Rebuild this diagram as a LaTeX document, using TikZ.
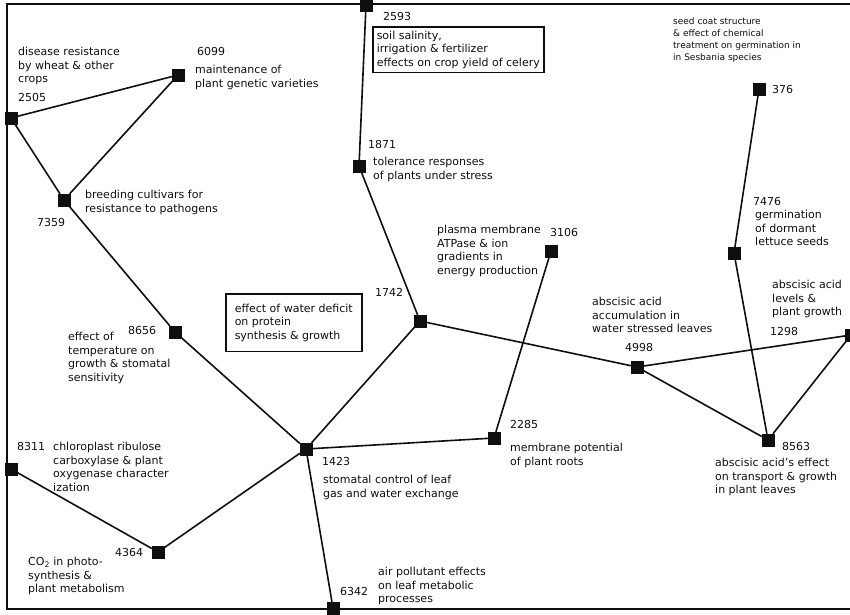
\documentclass[tikz,border=0pt]{standalone}
\usepackage{fontspec}
\setmainfont{DejaVu Sans}
\begin{document}
\begin{tikzpicture}[x=1pt,y=-1pt]
    % Define colour
    \definecolor{ink}{RGB}{15,15,15}

    % Define styles
    \tikzset{
        site/.style={
            draw=ink,
            fill=ink,
            rectangle,
            minimum size=12pt,
            inner sep=0pt
        },
        num/.style={
            anchor=north west,
            inner sep=0pt,
            text=ink,
            font=\fontsize{11}{13.5}\selectfont
        },
        topic/.style={
            anchor=north west,
            align=left,
            inner sep=0pt,
            text=ink,
            font=\fontsize{11}{13.5}\selectfont
        },
        boxed/.style={
            topic,
            draw=ink,
            line width=1.5pt,
            inner xsep=9pt,
            inner ysep=10pt
        },
        link/.style={
            draw=ink,
            line width=1.6pt
        },
        frame/.style={
            draw=ink,
            line width=2pt
        }
    }

    \useasboundingbox (0,0) rectangle (850,614);

    % Frame
    \draw[frame] (850,4) -- (7,4) -- (7,609) -- (850,609);

    % Topic sites
    \node[site] (s2505) at (11,118) {};
    \node[site] (s6099) at (178,75) {};
    \node[site] (s7359) at (64,200) {};
    \node[site] (s8656) at (175,332) {};
    \node[site] (s1423) at (306,449) {};
    \node[site] (s1742) at (420,321) {};
    \node[site] (s1871) at (359,166) {};
    \node[site] (s2593) at (366,5) {};
    \node[site] (s3106) at (551,251) {};
    \node[site] (s2285) at (494,438) {};
    \node[site] (s6342) at (333,608) {};
    \node[site] (s8311) at (11,469) {};
    \node[site] (s4364) at (158,552) {};
    \node[site] (s4998) at (637,367) {};
    \node[site] (s1298) at (851,335) {};
    \node[site] (s8563) at (768,440) {};
    \node[site] (s7476) at (734,253) {};
    \node[site] (s376) at (759,89) {};

    % Links between sites
    \draw[link] (s2505) -- (s6099);
    \draw[link] (s2505) -- (s7359);
    \draw[link] (s7359) -- (s6099);
    \draw[link] (s7359) -- (s8656);
    \draw[link] (s8656) -- (s1423);
    \draw[link] (s1423) -- (s1742);
    \draw[link] (s1742) -- (s1871);
    \draw[link] (s1871) -- (s2593);
    \draw[link] (s1742) -- (s4998);
    \draw[link] (s4998) -- (s1298);
    \draw[link] (s4998) -- (s8563);
    \draw[link] (s8563) -- (s1298);
    \draw[link] (s8563) -- (s7476);
    \draw[link] (s7476) -- (s376);
    \draw[link] (s3106) -- (s2285);
    \draw[link] (s2285) -- (s1423);
    \draw[link] (s1423) -- (s6342);
    \draw[link] (s1423) -- (s4364);
    \draw[link] (s4364) -- (s8311);

    % Numbers
    \node[num] (n2505) at (18,93) {2505};
    \node[num] (n6099) at (197,47) {6099};
    \node[num] (n7359) at (37,218) {7359};
    \node[num] (n8656) at (128,326) {8656};
    \node[num] (n1742) at (375,288) {1742};
    \node[num] (n1871) at (368,140) {1871};
    \node[num] (n2593) at (383,12) {2593};
    \node[num] (n3106) at (550,228) {3106};
    \node[num] (n2285) at (510,420) {2285};
    \node[num] (n1423) at (322,457) {1423};
    \node[num] (n6342) at (340,587) {6342};
    \node[num] (n8311) at (17,442) {8311};
    \node[num] (n4364) at (115,548) {4364};
    \node[num] (n4998) at (625,343) {4998};
    \node[num] (n1298) at (770,327) {1298};
    \node[num] (n8563) at (782,442) {8563};
    \node[num] (n7476) at (753,197) {7476};
    \node[num] (n376) at (772,85) {376};

    % Topic texts
    \node[topic] (t2505) at (18,47) {disease resistance\\by wheat \& other\\crops};
    \node[topic] (t6099) at (195,65) {maintenance of\\plant genetic varieties};
    \node[topic] (t7359) at (85,190) {breeding cultivars for\\resistance to pathogens};
    \node[topic] (t8656) at (68,332) {effect of\\temperature on\\growth \& stomatal\\sensitivity};
    \node[boxed] (t1742) at (225,293) {effect of water deficit\\on protein\\synthesis \& growth};
    \node[topic] (t1871) at (373,157) {tolerance responses\\of plants under stress};
    \node[boxed, inner xsep=4pt, inner ysep=4pt] (t2593) at (372,26) {soil salinity,\\irrigation \& fertilizer\\effects on crop yield of celery};
    \node[topic] (t3106) at (437,225) {plasma membrane\\ATPase \& ion\\gradients in\\energy production};
    \node[topic] (t2285) at (510,443) {membrane potential\\of plant roots};
    \node[topic] (t1423) at (323,475) {stomatal control of leaf\\gas and water exchange};
    \node[topic] (t6342) at (378,567) {air pollutant effects\\on leaf metabolic\\processes};
    \node[topic] (t8311) at (53,442) {chloroplast ribulose\\carboxylase \& plant\\oxygenase character\\ization};
    \node[topic] (t4364) at (28,557) {CO\textsubscript{2} in photo-\\synthesis \&\\plant metabolism};
    \node[topic] (t4998) at (592,297) {abscisic acid\\accumulation in\\water stressed leaves};
    \node[topic] (t1298) at (772,280) {abscisic acid\\levels \&\\plant growth};
    \node[topic] (t8563) at (715,458) {abscisic acid's effect\\on transport \& growth\\in plant leaves};
    \node[topic] (t7476) at (755,210) {germination\\of dormant\\lettuce seeds};
    \node[topic, font=\fontsize{9}{12}\selectfont] (t376) at (673,17) {seed coat structure\\\& effect of chemical\\treatment on germination in\\in Sesbania species};

\end{tikzpicture}
\end{document}
